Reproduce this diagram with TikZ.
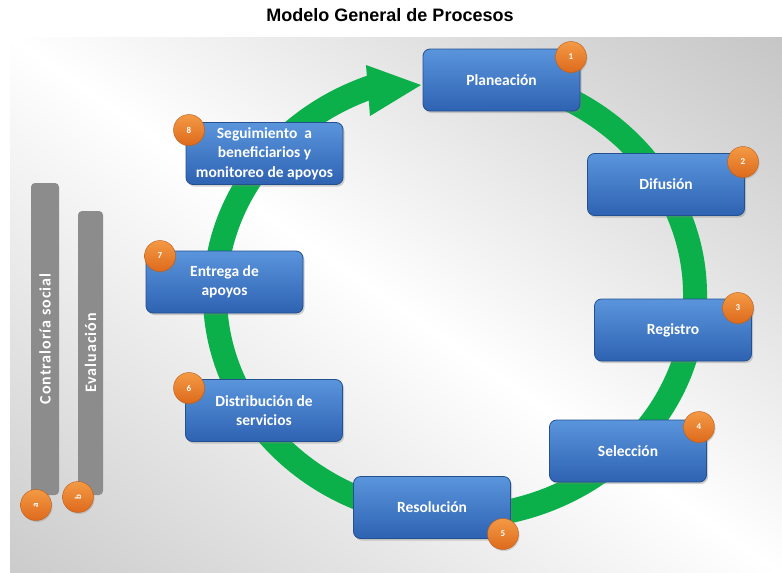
\documentclass[tikz,border=0pt]{standalone}
\usepackage{fontspec}
\setmainfont{Carlito}
\newfontfamily\titlefont{Liberation Sans}
\usetikzlibrary{shadows}
\definecolor{boxtop}{HTML}{5A95DC}
\definecolor{boxbot}{HTML}{2E62B2}
\definecolor{boxline}{HTML}{23508F}
\definecolor{ringcol}{HTML}{0BB04B}
\definecolor{orgtop}{HTML}{F39A45}
\definecolor{orgbot}{HTML}{DE6A1C}
\definecolor{barcol}{HTML}{8C8C8C}
\definecolor{bgdark}{HTML}{C2C2C2}
\definecolor{bglight}{HTML}{C8C8C8}
\tikzset{
  procbox/.style={rounded corners=7pt, top color=boxtop, bottom color=boxbot,
    draw=boxline, line width=0.8pt, minimum width=157pt, minimum height=62pt,
    text=white, font=\fontsize{15.5}{19.5}\selectfont\bfseries, align=center,
    drop shadow={opacity=0.35, shadow xshift=1.5pt, shadow yshift=-2pt}},
  badge/.style={circle, minimum size=31pt, inner sep=0pt, top color=orgtop,
    bottom color=orgbot, draw=orgbot!85!black, line width=0.4pt, text=white,
    font=\fontsize{9}{9}\selectfont\bfseries,
    drop shadow={opacity=0.3, shadow xshift=1pt, shadow yshift=-1.5pt}},
  sidebar/.style={rounded corners=4pt, fill=barcol, draw=none, rotate=90,
    text=white, inner sep=0pt,
    font=\fontsize{16}{16}\selectfont\bfseries\addfontfeatures{LetterSpace=6}},
}
\begin{document}
\begin{tikzpicture}[x=1pt,y=-1pt]
\useasboundingbox (0,0) rectangle (782,573);
% background
\begin{scope}
  \clip (10,37) rectangle (782,573);
  \shade[top color=bgdark, bottom color=bglight, middle color=white, shading angle=-34.8]
    (-74,-165) rectangle (866,775);
\end{scope}
% title
\node[font=\titlefont\fontsize{18}{18}\selectfont\bfseries] (title) at (390,15) {Modelo General de Procesos};
% ring
\coordinate (ringc) at (455,295);
\draw[ringcol, line width=24pt] (ringc) ++(-79:240 and 222)
  arc[start angle=-79, end angle=251, x radius=240, y radius=222];
\coordinate (ahtop) at (366,65);
\coordinate (ahbot) at (370,116);
\coordinate (ahtip) at (421,85);
\fill[ringcol] (ahtop) -- (ahtip) -- (ahbot) -- cycle;
% side bars
\node[sidebar, minimum width=312pt, minimum height=28pt] (contra) at (45,339) {Contraloría social};
\node[sidebar, minimum width=284pt, minimum height=25pt] (eval) at (90.5,353) {Evaluación};
\node[badge, rotate=90] (ba) at (36,505) {a};
\node[badge, rotate=90] (bb) at (78,497) {b};
% process boxes
\node[procbox] (plan) at (501.5,80) {Planeación};
\node[procbox] (difu) at (666,184.5) {Difusión};
\node[procbox] (regi) at (673,330) {Registro};
\node[procbox] (sele) at (628,451) {Selección};
\node[procbox] (reso) at (432,507.5) {Resolución};
\node[procbox] (dist) at (264,410.5) {Distribución de\\servicios};
\node[procbox] (entr) at (224.5,282) {Entrega de\\apoyos};
\node[procbox] (segu) at (264.5,153.5) {Seguimiento~ a\\beneficiarios y\\monitoreo de apoyos};
% badges
\node[badge] (n1) at (571,57) {1};
\node[badge] (n2) at (743,162) {2};
\node[badge] (n3) at (738,308) {3};
\node[badge] (n4) at (699,427) {4};
\node[badge] (n5) at (503,534) {5};
\node[badge] (n6) at (189,388) {6};
\node[badge] (n7) at (160,256) {7};
\node[badge] (n8) at (189,130) {8};
\end{tikzpicture}
\end{document}
